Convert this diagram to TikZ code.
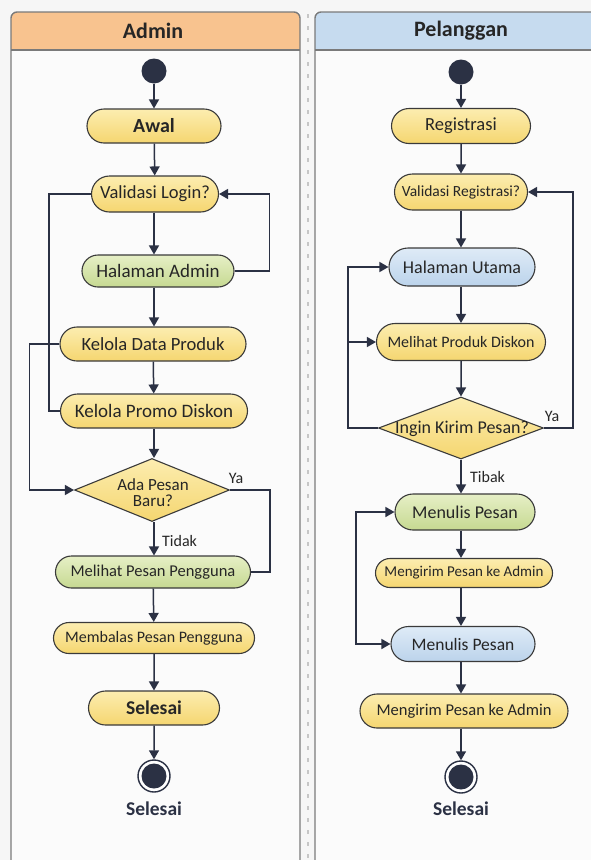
\documentclass[tikz,border=0pt]{standalone}
\usepackage{fontspec}
\setmainfont{Carlito}
\usetikzlibrary{shapes.geometric,shapes.misc,arrows.meta,calc}
\definecolor{ink}{HTML}{2B3144}
\definecolor{boxline}{HTML}{3A3A3A}
\definecolor{txt}{HTML}{262626}
\definecolor{bgc}{HTML}{F6F6F6}
\definecolor{panelc}{HTML}{FBFBFB}
\definecolor{panelline}{HTML}{7A7A7A}
\definecolor{hdrA}{HTML}{F8C38F}
\definecolor{hdrB}{HTML}{C6DBEF}
\definecolor{yelT}{HTML}{FCEDB0}
\definecolor{yelB}{HTML}{F5D670}
\definecolor{grnT}{HTML}{E6EFC6}
\definecolor{grnB}{HTML}{C6D991}
\definecolor{bluT}{HTML}{DFEBF7}
\definecolor{bluB}{HTML}{BBD3EB}
\newcommand{\fs}[1]{\fontsize{#1}{#1}\selectfont}
\begin{document}
\begin{tikzpicture}[x=1pt,y=-1pt,
  act/.style={rounded rectangle, draw=boxline, line width=1.1pt, inner sep=0pt,
    align=center, text=txt},
  yel/.style={act, top color=yelT, bottom color=yelB},
  grn/.style={act, top color=grnT, bottom color=grnB},
  blu/.style={act, top color=bluT, bottom color=bluB},
  dec/.style={diamond, draw=boxline, line width=1.1pt, inner sep=0pt,
    top color=yelT, bottom color=yelB},
  dectxt/.style={text=txt, align=center, inner sep=0pt},
  startc/.style={circle, fill=ink, minimum size=25pt, inner sep=0pt},
  endc/.style={circle, draw=ink, line width=1.4pt, fill=white, minimum size=32pt, inner sep=0pt},
  ln/.style={draw=ink, line width=1.5pt},
  arr/.style={ln, -{Triangle[length=9pt,width=10pt]}},
  lbl/.style={text=txt, inner sep=1pt},
  hdrtxt/.style={text=txt, font=\bfseries\fs{22}}
]
\clip (0,0) rectangle (591,860);
\fill[bgc] (0,0) rectangle (591,860);
% panels
\fill[panelc] (11,875) -- (11,12) -- (300,12) -- (300,875) -- cycle;
\fill[panelc] (315,875) -- (315,12) -- (610,12) -- (610,875) -- cycle;
\fill[hdrA] (11,50) {[rounded corners=6pt] -- (11,12) -- (300,12)} -- (300,50) -- cycle;
\fill[hdrB] (315,50) {[rounded corners=6pt] -- (315,12) -- (610,12)} -- (610,50) -- cycle;
\draw[panelline, line width=1.2pt] (11,50) -- (300,50);
\draw[panelline, line width=1.2pt] (315,50) -- (610,50);
\draw[panelline, line width=1.4pt, rounded corners=6pt] (11,875) -- (11,12) -- (300,12) -- (300,875);
\draw[panelline, line width=1.4pt, rounded corners=6pt] (315,875) -- (315,12) -- (610,12) -- (610,875);
\draw[gray!45, line width=1.2pt, dash pattern=on 4pt off 8pt] (308,14) -- (308,860);
\node[hdrtxt] (hA) at (153,31) {Admin};
\node[hdrtxt] (hB) at (461,31) {Pelanggan};

% ---------- Admin ----------
\node[startc] (s1) at (154,71) {};
\node[yel, minimum width=134pt, minimum height=34pt, font=\bfseries\fs{20}] (awal) at (154,126) {Awal};
\node[yel, minimum width=127pt, minimum height=36pt, font=\fs{18.5}] (vlog) at (155,194) {Validasi Login?};
\node[grn, minimum width=152pt, minimum height=32pt, font=\fs{19}] (hadm) at (158,271) {Halaman Admin};
\node[yel, minimum width=186pt, minimum height=34pt, font=\fs{18.6}] (kdp) at (153,344) {Kelola Data Produk};
\node[yel, minimum width=187pt, minimum height=34pt, font=\fs{19}] (kpd) at (154,411) {Kelola Promo Diskon};
\node[dec, minimum width=155pt, minimum height=63pt] (d1) at (152,490) {};
\node[dectxt, font=\fs{17}] (d1t) at (153,493) {Ada Pesan\\[-1pt]Baru?};
\node[grn, minimum width=195pt, minimum height=32pt, font=\fs{16.5}] (mpp) at (153,572) {Melihat Pesan Pengguna};
\node[yel, minimum width=201pt, minimum height=31pt, font=\fs{16}] (bpp) at (154,638) {Membalas Pesan Pengguna};
\node[yel, minimum width=131pt, minimum height=34pt, font=\bfseries\fs{19.5}] (selA) at (154,708) {Selesai};
\node[endc] (e1) at (154,776) {};
\fill[ink] (e1.center) circle (12.5pt);
\node[text=ink, font=\bfseries\fs{19.5}] (lA) at (154,809) {Selesai};

\draw[arr] (s1) -- (awal);
\draw[arr] (awal) -- (vlog);
\draw[arr] (vlog.south -| s1) -- (s1 |- hadm.north);
\draw[arr] (s1 |- hadm.south) -- (s1 |- kdp.north);
\draw[arr] (kdp) -- (kpd);
\draw[arr] (kpd.south) -- (kpd.south |- d1.north);
\draw[arr] (d1.south -| kpd.south) -- (kpd.south |- mpp.north);
\draw[arr] (mpp) -- (bpp);
\draw[arr] (bpp) -- (selA);
\draw[arr] (selA) -- (e1);
\draw[arr] (hadm.east) -- ++(35,0) |- (vlog.east);
\draw[ln] (vlog.west) -- ++(-42,0) |- (kpd.west);
\draw[arr] (kdp.west) -- ++(-30,0) |- (d1.west);
\draw[ln] (d1.east) -- ++(40,0) |- (mpp.east);
\node[lbl, font=\fs{16}] (ya1) at (236,478) {Ya};
\node[lbl, font=\fs{16}, anchor=west] (td1) at (161,541) {Tidak};

% ---------- Pelanggan ----------
\node[startc] (s2) at (461,72) {};
\node[yel, minimum width=139pt, minimum height=35pt, font=\fs{18.5}] (reg) at (461,126) {Registrasi};
\node[yel, minimum width=133pt, minimum height=36pt, font=\fs{15.5}] (vreg) at (461,192) {Validasi Registrasi?};
\node[blu, minimum width=146pt, minimum height=38pt, font=\fs{18}] (hut) at (462,267) {Halaman Utama};
\node[yel, minimum width=169pt, minimum height=37pt, font=\fs{16}] (mpd) at (461,342) {Melihat Produk Diskon};
\node[dec, minimum width=165pt, minimum height=62pt] (d2) at (461,428) {};
\node[dectxt, font=\fs{18}] (d2t) at (462,429) {Ingin Kirim Pesan?};
\node[grn, minimum width=140pt, minimum height=36pt, font=\fs{18}] (mp1) at (465,512) {Menulis Pesan};
\node[yel, minimum width=177pt, minimum height=29pt, font=\fs{15}] (kpa1) at (464,573) {Mengirim Pesan ke Admin};
\node[blu, minimum width=144pt, minimum height=35pt, font=\fs{17.5}] (mp2) at (463,644) {Menulis Pesan};
\node[yel, minimum width=208pt, minimum height=34pt, font=\fs{16.5}] (kpa2) at (464,711) {Mengirim Pesan ke Admin};
\node[endc] (e2) at (461,777) {};
\fill[ink] (e2.center) circle (12.5pt);
\node[text=ink, font=\bfseries\fs{19.5}] (lB) at (461,809) {Selesai};

\draw[arr] (s2) -- (reg);
\draw[arr] (reg) -- (vreg);
\draw[arr] (vreg.south -| s2) -- (s2 |- hut.north);
\draw[arr] (s2 |- hut.south) -- (s2 |- mpd.north);
\draw[arr] (mpd) -- (d2);
\draw[arr] (d2.south) -- (s2 |- mp1.north);
\draw[arr] (s2 |- mp1.south) -- (s2 |- kpa1.north);
\draw[arr] (s2 |- kpa1.south) -- (s2 |- mp2.north);
\draw[arr] (s2 |- mp2.south) -- (s2 |- kpa2.north);
\draw[arr] (s2 |- kpa2.south) -- (e2);
\draw[arr] (d2.east) -- ++(29,0) |- (vreg.east);
\draw[arr] (d2.west) -- ++(-30,0) coordinate (dl) |- (hut.west);
\draw[arr] (dl |- mpd.west) -- (mpd.west);
\coordinate (lb) at (356,578);
\draw[arr] (lb |- mp2.west) -- (lb |- mp1.west) -- (mp1.west);
\draw[arr] (lb |- mp1.west) |- (mp2.west);
\node[lbl, font=\fs{16}] (ya2) at (552,416) {Ya};
\node[lbl, font=\fs{16}, anchor=west] (tb2) at (469,477) {Tibak};
\end{tikzpicture}
\end{document}
